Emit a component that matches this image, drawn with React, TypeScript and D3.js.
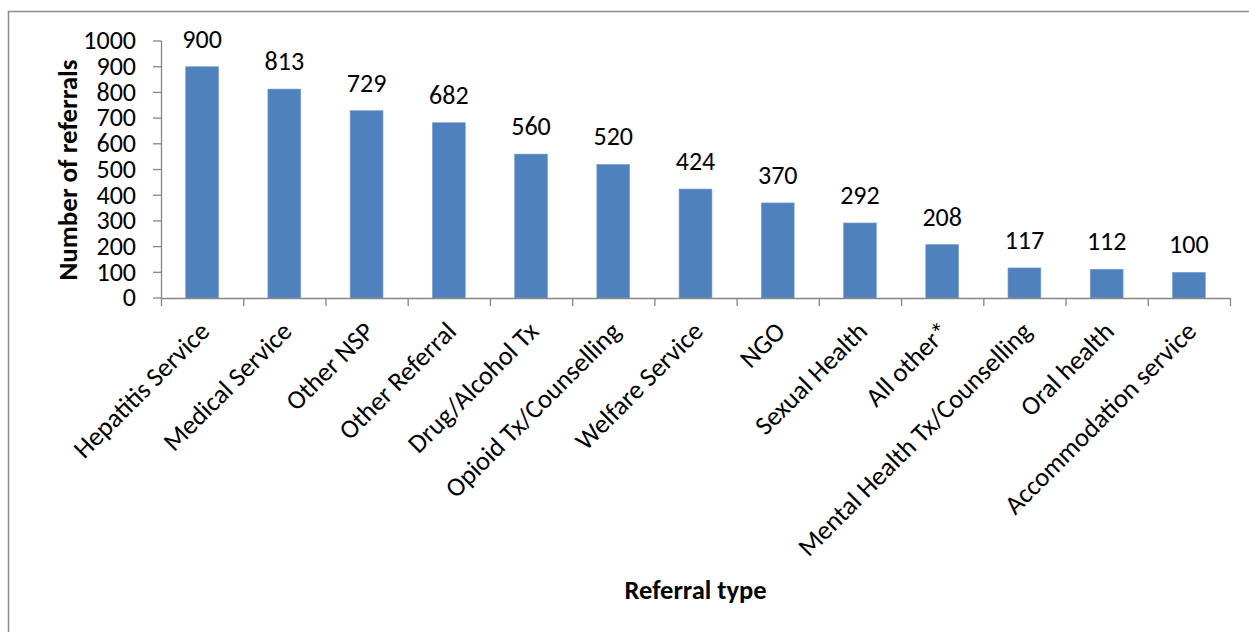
import React from "react";
import * as d3 from "d3";

const categories = [
  "Hepatitis Service",
  "Medical Service",
  "Other NSP",
  "Other Referral",
  "Drug/Alcohol Tx",
  "Opioid Tx/Counselling",
  "Welfare Service",
  "NGO",
  "Sexual Health",
  "All other*",
  "Mental Health Tx/Counselling",
  "Oral health",
  "Accommodation service",
];
const values = [900, 813, 729, 682, 560, 520, 424, 370, 292, 208, 117, 112, 100];
const yTicks = [0, 100, 200, 300, 400, 500, 600, 700, 800, 900, 1000];

const W = 1249;
const H = 632;
const FONT = "Carlito, 'Liberation Sans', Arial, sans-serif";

export default function App() {
  const x = d3.scaleBand<string>().domain(categories).range([161, 1230]).paddingInner(0).paddingOuter(0);
  const y = d3.scaleLinear().domain([0, 1000]).range([298, 41]);
  const bw = x.bandwidth();
  const barW = bw / 2.5;
  const axisColor = "#868686";
  const fs = 26.5;

  return (
    <svg
      width={W}
      height={H}
      style={{ position: "absolute", left: 0, top: 0, display: "block", background: "#fff" }}
      fontFamily={FONT}
    >
      <rect x={8.5} y={11.5} width={W + 20} height={H + 20} fill="#fff" stroke="#8c8c8c" strokeWidth={1.5} />
      {/* y axis */}
      <line x1={161.5} x2={161.5} y1={y(1000)} y2={y(0)} stroke={axisColor} strokeWidth={1.3} />
      {yTicks.map((t) => (
        <g key={t}>
          <line x1={153} x2={161.5} y1={y(t)} y2={y(t)} stroke={axisColor} strokeWidth={1.3} />
          <text x={136} y={y(t)} dy="0.32em" textAnchor="end" fontSize={26} fill="#000">
            {t}
          </text>
        </g>
      ))}
      {/* bars */}
      {categories.map((c, i) => {
        const cx = (x(c) as number) + bw / 2;
        return (
          <g key={c}>
            <rect
              x={cx - barW / 2}
              y={y(values[i])}
              width={barW}
              height={y(0) - y(values[i])}
              fill="#4F81BD"
              stroke="#7fa3d1"
              strokeWidth={0.6}
            />
            <text x={cx} y={y(values[i]) - 19} textAnchor="middle" fontSize={26} fill="#000">
              {values[i]}
            </text>
          </g>
        );
      })}
      {/* x axis */}
      <line x1={161} x2={1230} y1={y(0) + 0.5} y2={y(0) + 0.5} stroke={axisColor} strokeWidth={1.3} />
      {[...categories.map((c) => x(c) as number), 1230].map((px, i) => (
        <line key={i} x1={px + 0.5} x2={px + 0.5} y1={y(0)} y2={y(0) + 8} stroke={axisColor} strokeWidth={1.3} />
      ))}
      {categories.map((c) => {
        const cx = (x(c) as number) + bw / 2;
        return (
          <text
            key={c}
            transform={`translate(${cx + 9},${333}) rotate(-45)`}
            textAnchor="end"
            fontSize={fs}
            fill="#000"
          >
            {c}
          </text>
        );
      })}
      {/* titles */}
      <text
        transform={`translate(${77},${170}) rotate(-90)`}
        textAnchor="middle"
        fontSize={27}
        fontWeight="bold"
        fill="#000"
      >
        Number of referrals
      </text>
      <text x={695.5} y={599} textAnchor="middle" fontSize={26.5} fontWeight="bold" fill="#000">
        Referral type
      </text>
    </svg>
  );
}
